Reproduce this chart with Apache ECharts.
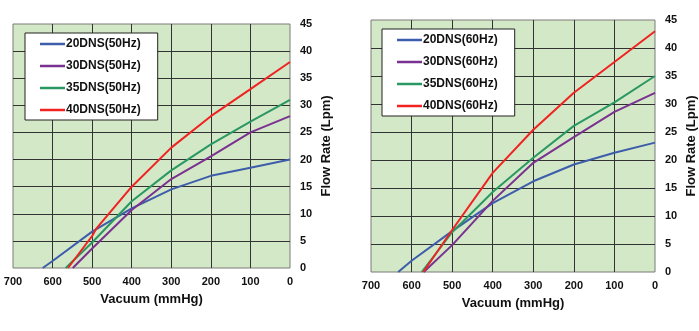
<!DOCTYPE html>
<html>
<head>
<meta charset="utf-8">
<script src="https://cdn.jsdelivr.net/npm/echarts@6/dist/echarts.min.js"></script>
<style>
html,body{margin:0;padding:0;background:#fff;}
#c{width:699px;height:331px;}
</style>
</head>
<body>
<div id="c"></div>
<script>
// ---- data ----
const xTicks = [700, 600, 500, 400, 300, 200, 100, 0];
const yTicks = [0, 5, 10, 15, 20, 25, 30, 35, 40, 45];

const names50 = ['20DNS(50Hz)', '30DNS(50Hz)', '35DNS(50Hz)', '40DNS(50Hz)'];
const names60 = ['20DNS(60Hz)', '30DNS(60Hz)', '35DNS(60Hz)', '40DNS(60Hz)'];

// vacuum (mmHg) points and flow (Lpm) values, 50 Hz
const vac20_50 = [625, 600, 500, 400, 300, 200, 100, 0];
const flow20_50 = [0, 1.3, 6.7, 11, 14.5, 17, 18.5, 20];
const vac30_50 = [549, 500, 400, 300, 200, 100, 0];
const flow30_50 = [0, 3.6, 10.7, 16.4, 20.6, 25, 28];
const vac35_50 = [567, 500, 400, 300, 200, 100, 0];
const flow35_50 = [0, 4.7, 12.3, 18, 22.8, 27, 31];
const vac40_50 = [561, 500, 490, 400, 300, 200, 100, 0];
const flow40_50 = [0, 5.9, 7.2, 15, 22.2, 28, 33, 38];

// 60 Hz
const vac20_60 = [633, 600, 500, 400, 300, 200, 100, 0];
const flow20_60 = [0, 2.0, 7.3, 12.3, 16.2, 19.2, 21.3, 23.1];
const vac30_60 = [570, 500, 400, 300, 200, 100, 0];
const flow30_60 = [0, 4.8, 12.7, 19.5, 24.1, 28.6, 32];
const vac35_60 = [575, 500, 400, 300, 200, 100, 0];
const flow35_60 = [0, 7.1, 14.3, 20.4, 26.1, 30.3, 35];
const vac40_60 = [571, 500, 400, 300, 200, 100, 0];
const flow40_60 = [0, 7.5, 17.7, 25.4, 32, 37.5, 43];

const colors = ['#3d5dac', '#7a3190', '#2a9862', '#f02222'];

// ---- build ----
function pairs(xs, ys) { return xs.map((x, i) => [x, ys[i]]); }

const series50 = [pairs(vac20_50, flow20_50), pairs(vac30_50, flow30_50), pairs(vac35_50, flow35_50), pairs(vac40_50, flow40_50)];
const series60 = [pairs(vac20_60, flow20_60), pairs(vac30_60, flow30_60), pairs(vac35_60, flow35_60), pairs(vac40_60, flow40_60)];

const FONT = 'Liberation Sans, Arial, sans-serif';
const gridLineColor = '#333';

function xAxis(idx) {
  return {
    type: 'value', gridIndex: idx, inverse: true,
    min: xTicks[xTicks.length - 1], max: xTicks[0], interval: 100,
    axisLine: { show: false }, axisTick: { show: false },
    axisLabel: { margin: 8, color: '#111', fontSize: 11, fontWeight: 'bold', fontFamily: FONT },
    splitLine: { show: true, showMinLine: false, showMaxLine: false, lineStyle: { color: gridLineColor, width: 1 } },
    name: 'Vacuum (mmHg)', nameLocation: 'middle', nameGap: 25,
    nameTextStyle: { color: '#111', fontSize: 13, fontWeight: 'bold', fontFamily: FONT }
  };
}
function yAxis(idx) {
  return {
    type: 'value', gridIndex: idx, position: 'right',
    min: yTicks[0], max: yTicks[yTicks.length - 1], interval: 5,
    axisLine: { show: false }, axisTick: { show: false },
    axisLabel: { margin: 10, color: '#111', fontSize: 11, fontWeight: 'bold', fontFamily: FONT, align: 'left' },
    splitLine: { show: true, showMinLine: false, showMaxLine: false, lineStyle: { color: gridLineColor, width: 1 } },
    name: 'Flow Rate (Lpm)', nameLocation: 'middle', nameGap: 30, nameRotate: 90,
    nameTextStyle: { color: '#111', fontSize: 13, fontWeight: 'bold', fontFamily: FONT }
  };
}
function legend(names, left, top) {
  return {
    data: names, orient: 'vertical', left: left, top: top,
    icon: 'rect', itemWidth: 25, itemHeight: 2.5, itemGap: 8,
    padding: [4, 17, 3, 15],
    backgroundColor: '#fff', borderColor: '#222', borderWidth: 1,
    textStyle: { color: '#111', fontSize: 12, fontWeight: 'bold', fontFamily: FONT, lineHeight: 14, padding: [0, 0, 0, -4] }
  };
}

const series = [];
series50.forEach((d, i) => series.push({
  type: 'line', name: names50[i], xAxisIndex: 0, yAxisIndex: 0, data: d,
  symbol: 'none', lineStyle: { width: 2, color: colors[i] }, itemStyle: { color: colors[i] }, z: 3
}));
series60.forEach((d, i) => series.push({
  type: 'line', name: names60[i], xAxisIndex: 1, yAxisIndex: 1, data: d,
  symbol: 'none', lineStyle: { width: 2, color: colors[i] }, itemStyle: { color: colors[i] }, z: 3
}));

const chart = echarts.init(document.getElementById('c'), null, { renderer: 'canvas' });
chart.setOption({
  animation: false,
  backgroundColor: '#fff',
  grid: [
    { left: 13, right: 409, top: 24, bottom: 63, show: true, backgroundColor: '#d3e8c6', borderColor: '#7a7a7a', borderWidth: 1 },
    { left: 371, right: 44, top: 20, bottom: 59, show: true, backgroundColor: '#d3e8c6', borderColor: '#7a7a7a', borderWidth: 1 }
  ],
  xAxis: [xAxis(0), xAxis(1)],
  yAxis: [yAxis(0), yAxis(1)],
  legend: [legend(names50, 25, 33), legend(names60, 382, 29)],
  series: series
});
</script>
</body>
</html>
